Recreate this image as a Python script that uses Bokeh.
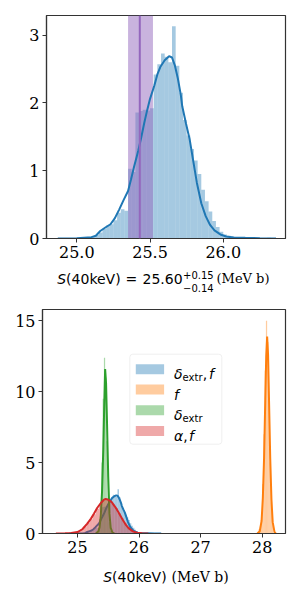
from bokeh.plotting import figure
from bokeh.models import Label, BoxAnnotation, Span, FixedTicker, Range1d, CustomJSTickFormatter
from bokeh.layouts import column
from bokeh.embed import file_html
from bokeh.resources import INLINE

# ---------------- data ----------------
# posterior of S(40keV) for the (delta_extr, f) fit: histogram + KDE
bin_start_a = 25.0
bin_width_a = 0.025
hist_a = [0.00, 0.01, 0.01, 0.02, 0.03, 0.05, 0.09, 0.14, 0.19, 0.21,
          0.27, 0.38, 0.43, 0.41, 1.03, 0.98, 1.86, 1.88, 1.90, 1.89,
          1.92, 2.42, 2.57, 2.73, 2.68, 2.60, 3.13, 2.55, 2.15, 1.75,
          1.52, 1.32, 1.15, 0.95, 0.72, 0.55, 0.40, 0.26, 0.17, 0.10,
          0.06, 0.04, 0.03, 0.02, 0.02, 0.01, 0.01, 0.01, 0.00, 0.01,
          0.00, 0.00, 0.01, 0.00]
kde_a_x = [24.87, 25.00, 25.10, 25.13, 25.16, 25.20, 25.23, 25.26, 25.29, 25.32,
           25.35, 25.37, 25.39, 25.42, 25.44, 25.46, 25.48, 25.50, 25.53, 25.55,
           25.57, 25.60, 25.63, 25.65, 25.67, 25.69, 25.71, 25.72, 25.745, 25.77,
           25.80, 25.82, 25.85, 25.88, 25.91, 25.94, 25.98, 26.02, 26.07, 26.15,
           26.25, 26.36]
kde_a_y = [0.0, 0.005, 0.02, 0.04, 0.11, 0.17, 0.21, 0.30, 0.43, 0.57,
           0.70, 0.87, 1.05, 1.30, 1.49, 1.70, 1.89, 2.06, 2.26, 2.42,
           2.53, 2.63, 2.69, 2.67, 2.55, 2.36, 2.12, 1.95, 1.70, 1.47,
           1.08, 0.82, 0.52, 0.33, 0.20, 0.12, 0.06, 0.03, 0.015, 0.01,
           0.005, 0.0]
ci_central = 25.43
ci_low = 25.35
ci_high = 25.52

# (f) fit
bin_start_b = 27.94
bin_width_b = 0.02
hist_b = [0.3, 0.5, 1.5, 3.5, 7.0, 11.5, 15.0, 13.5, 9.5, 5.0, 2.2, 0.7]
kde_b_x = [27.92, 27.96, 27.99, 28.01, 28.03, 28.05, 28.065, 28.08, 28.095, 28.11,
           28.13, 28.15, 28.17, 28.20, 28.22]
kde_b_y = [0.0, 0.15, 0.9, 2.5, 5.3, 9.5, 12.5, 13.9, 12.6, 9.5,
           5.3, 2.4, 0.8, 0.1, 0.0]

# (delta_extr) fit
bin_start_c = 25.35
bin_width_c = 0.02
hist_c = [0.5, 2.0, 5.0, 9.5, 12.4, 11.0, 6.5, 2.5, 0.8, 0.2]
kde_c_x = [25.30, 25.34, 25.36, 25.38, 25.40, 25.42, 25.435, 25.45, 25.465, 25.48,
           25.50, 25.52, 25.54, 25.57, 25.60]
kde_c_y = [0.0, 0.15, 0.45, 1.3, 3.0, 6.0, 9.0, 11.6, 10.6, 7.9,
           4.0, 1.4, 0.4, 0.05, 0.0]

# (alpha, f) fit
bin_start_d = 24.90
bin_width_d = 0.05
hist_d = [0.05, 0.08, 0.15, 0.30, 0.50, 0.75, 1.00, 1.35, 1.75, 2.10,
          2.30, 2.35, 2.30, 2.10, 1.80, 1.45, 1.10, 0.75, 0.45, 0.25,
          0.12, 0.05, 0.02]
kde_d_x = [24.65, 24.80, 24.90, 25.00, 25.08, 25.16, 25.22, 25.27, 25.32, 25.38,
           25.43, 25.46, 25.50, 25.55, 25.60, 25.64, 25.68, 25.73, 25.78, 25.83,
           25.90, 25.97, 26.05, 26.15]
kde_d_y = [0.0, 0.01, 0.03, 0.10, 0.30, 0.70, 1.05, 1.41, 1.80, 2.15,
           2.38, 2.43, 2.38, 2.25, 1.95, 1.70, 1.40, 1.00, 0.65, 0.38,
           0.15, 0.05, 0.01, 0.0]

top_xticks = [25.0, 25.5, 26.0]
top_yticks = [0, 1, 2, 3]
bot_xticks = [25, 26, 27, 28]
bot_yticks = [0, 5, 10, 15]

BLUE, ORANGE, GREEN, RED, PURPLE = "#1f77b4", "#ff7f0e", "#2ca02c", "#d62728", "#9467bd"
SERIF = "DejaVu Serif"
SANS = "DejaVu Sans"
W = 292


def edges(start, width, n):
    lefts = [start + i * width for i in range(n)]
    return lefts, [l + width for l in lefts]


def style(p, xticks, yticks, xfmt):
    p.outline_line_color = "#333333"
    p.outline_line_width = 1.2
    p.xgrid.visible = False
    p.ygrid.visible = False
    for ax in (p.xaxis[0], p.yaxis[0]):
        ax.axis_line_color = "#333333"
        ax.axis_line_width = 1.2
        ax.major_tick_line_color = "#333333"
        ax.major_tick_in = 0
        ax.major_tick_out = 4
        ax.minor_tick_line_color = None
        ax.major_label_text_font = SERIF
        ax.major_label_text_font_size = "16px"
        ax.major_label_text_color = "black"
        ax.major_label_standoff = 3
    p.xaxis.ticker = FixedTicker(ticks=xticks)
    p.yaxis.ticker = FixedTicker(ticks=yticks)
    p.xaxis.formatter = CustomJSTickFormatter(code="return tick.toFixed(%d);" % xfmt)
    p.yaxis.formatter = CustomJSTickFormatter(code="return tick.toFixed(0);")


def lab(p, x, y, text, font=SANS, size="14px", style_="normal", baseline="alphabetic"):
    p.add_layout(Label(x=x, y=y, x_units="screen", y_units="screen", text=text,
                       text_font=font, text_font_size=size, text_font_style=style_,
                       text_baseline=baseline, text_align="left", text_color="black"))


def hist(p, start, width, vals, color):
    l, r = edges(start, width, len(vals))
    p.quad(left=l, right=r, bottom=[0] * len(vals), top=vals,
           fill_color=color, fill_alpha=0.4, line_color=None)


def label_strip(height, left):
    s = figure(width=W, height=height, output_backend="svg", toolbar_location=None,
               x_axis_location=None, y_axis_location=None,
               x_range=Range1d(0, 1), y_range=Range1d(0, 1),
               min_border=0, min_border_left=left, min_border_right=0,
               min_border_top=0, min_border_bottom=0)
    s.outline_line_color = None
    s.xgrid.visible = False
    s.ygrid.visible = False
    return s


# ---------------- top panel ----------------
L1 = 46
p1 = figure(width=W, height=264, output_backend="svg", toolbar_location=None,
            x_range=Range1d(24.793, 26.425), y_range=Range1d(0, 3.29),
            min_border_left=L1, min_border_right=7, min_border_top=15, min_border_bottom=26)
style(p1, top_xticks, top_yticks, 1)
hist(p1, bin_start_a, bin_width_a, hist_a, BLUE)
p1.quad(left=[ci_low], right=[ci_high], bottom=[0], top=[p1.y_range.end],
        fill_color=PURPLE, fill_alpha=0.5, line_color=None)
p1.line(kde_a_x, kde_a_y, line_color=BLUE, line_width=2)
p1.add_layout(Span(location=ci_central, dimension="height", line_color=PURPLE, line_width=2))

# x label strip: S(40keV) = 25.60^{+0.15}_{-0.14} (MeV b)   (x measured from frame left)
l1 = label_strip(36, L1)
lab(l1, 56.7 - L1, 22, "S", style_="italic")
lab(l1, 65.6 - L1, 22, "(40keV)")
lab(l1, 125.0 - L1, 22, "=")
lab(l1, 142.0 - L1, 22, "25.60")
lab(l1, 182.5 - L1, 26, "+0.15", size="10px")
lab(l1, 182.5 - L1, 13, "\u22120.14", size="10px")
lab(l1, 216.0 - L1, 22, "(MeV b)", font=SERIF, size="13px")

# ---------------- bottom panel ----------------
L2 = 42
p2 = figure(width=W, height=259, output_backend="svg", toolbar_location=None,
            x_range=Range1d(24.433, 28.378), y_range=Range1d(0, 15.8),
            min_border_left=L2, min_border_right=7, min_border_top=9, min_border_bottom=26)
style(p2, bot_xticks, bot_yticks, 0)
for start, width, vals, kx, ky, col in [
        (bin_start_a, bin_width_a, hist_a, kde_a_x, kde_a_y, BLUE),
        (bin_start_b, bin_width_b, hist_b, kde_b_x, kde_b_y, ORANGE),
        (bin_start_c, bin_width_c, hist_c, kde_c_x, kde_c_y, GREEN),
        (bin_start_d, bin_width_d, hist_d, kde_d_x, kde_d_y, RED)]:
    hist(p2, start, width, vals, col)
    p2.line(kx, ky, line_color=col, line_width=2)

# legend (screen units relative to frame)
p2.add_layout(BoxAnnotation(left=87.3, right=179.3, bottom=89.3, top=179.3,
                            left_units="screen", right_units="screen",
                            top_units="screen", bottom_units="screen",
                            fill_color="white", fill_alpha=0.8,
                            line_color="#cccccc", line_width=1, border_radius=3))
rows = [164.3, 144.0, 123.3, 102.6]
for yc, col in zip(rows, [BLUE, ORANGE, GREEN, RED]):
    p2.add_layout(BoxAnnotation(left=93.3, right=121.6, bottom=yc - 5, top=yc + 5,
                                left_units="screen", right_units="screen",
                                top_units="screen", bottom_units="screen",
                                fill_color=col, fill_alpha=0.4, line_color=None))
bx = 131.6
lab(p2, bx, rows[0] - 5, "\u03b4", style_="italic")
lab(p2, bx + 8.5, rows[0] - 8, "extr", size="10px")
lab(p2, bx + 28.6, rows[0] - 5, ",")
lab(p2, bx + 35, rows[0] - 5, "f", style_="italic")
lab(p2, bx, rows[1] - 5, "f", style_="italic")
lab(p2, bx, rows[2] - 5, "\u03b4", style_="italic")
lab(p2, bx + 8.5, rows[2] - 8, "extr", size="10px")
lab(p2, bx, rows[3] - 5, "\u03b1", style_="italic")
lab(p2, bx + 9.2, rows[3] - 5, ",")
lab(p2, bx + 15, rows[3] - 5, "f", style_="italic")

l2 = label_strip(34, L2)
lab(l2, 102.7 - L2, 17, "S", style_="italic")
lab(l2, 111.6 - L2, 17, "(40keV)")
lab(l2, 171.1 - L2, 17, "(MeV b)", font=SERIF)

layout = column(column(p1, l1), column(p2, l2))
open("out.html", "w").write(file_html(layout, INLINE))
